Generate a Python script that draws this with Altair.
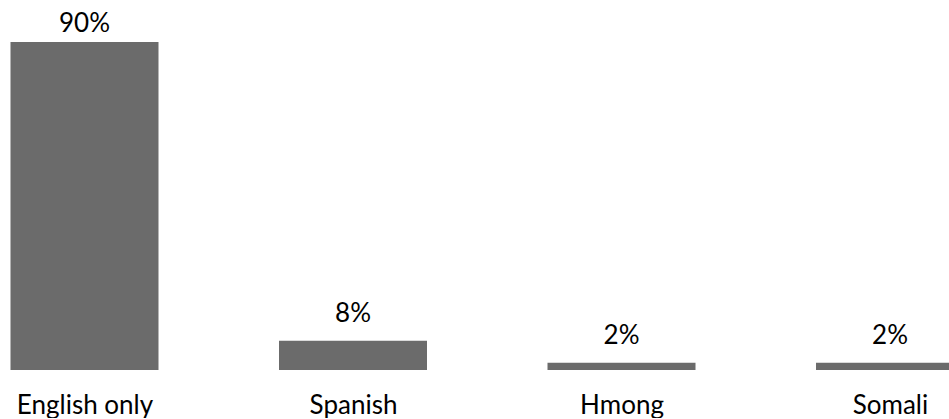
import json
import altair as alt
import pandas as pd

categories = ["English only", "Spanish", "Hmong", "Somali"]
values = [90, 8, 2, 2]

df = pd.DataFrame({"category": categories, "value": values})
df["idx"] = list(range(len(categories)))

FONT = "Lato"
HALF = 0.2756  # half bar width in category steps

label_expr = json.dumps(categories) + "[datum.value]"

x_scale = alt.Scale(domain=[-0.3147, 3.2197], nice=False, zero=False)
x_axis = alt.Axis(
    title=None, domain=False, ticks=False, grid=False,
    values=list(range(len(categories))), labelExpr=label_expr,
    labelAngle=0, labelFont=FONT, labelFontSize=26, labelColor="#000000",
    labelBaseline="alphabetic", labelPadding=43, labelOverlap=False,
    labelFlush=False,
)
y_scale = alt.Scale(domain=[0, 101.5], nice=False, zero=True)
y_enc = alt.Y("value:Q", scale=y_scale, axis=None)

base = alt.Chart(df).transform_calculate(
    lo=f"datum.idx - {HALF}", hi=f"datum.idx + {HALF}", label="datum.value + '%'"
)

bars = base.mark_bar(color="#6b6b6b", clip=True).encode(
    x=alt.X("lo:Q", scale=x_scale, axis=x_axis),
    x2="hi:Q",
    y=y_enc,
    y2=alt.datum(0),
)

under = base.transform_calculate(b0="-0.75", b1="-0.45").mark_bar(
    color="#9a9a9a", opacity=0.6, clip=True
).encode(
    x=alt.X("lo:Q", scale=x_scale, axis=x_axis),
    x2="hi:Q",
    y=alt.Y("b0:Q", scale=y_scale, axis=None),
    y2="b1:Q",
)

text_x = alt.X("idx:Q", scale=x_scale, axis=x_axis)

labels_big = base.transform_filter("datum.value > 50").mark_text(
    font=FONT, fontSize=26, color="#000000", baseline="alphabetic", dy=-10
).encode(x=text_x, y=y_enc, text="label:N")

labels_small = base.transform_filter("datum.value <= 50").mark_text(
    font=FONT, fontSize=26, color="#000000", baseline="alphabetic", dy=-19
).encode(x=text_x, y=y_enc, text="label:N")

chart = alt.layer(bars, under, labels_big, labels_small).properties(
    width=949,
    height=370,
    padding={"left": 0, "top": 0, "right": 0, "bottom": 0},
    background="#ffffff",
).configure_view(stroke=None)

chart.save("out.html", embed_options={"renderer": "svg", "actions": False})
